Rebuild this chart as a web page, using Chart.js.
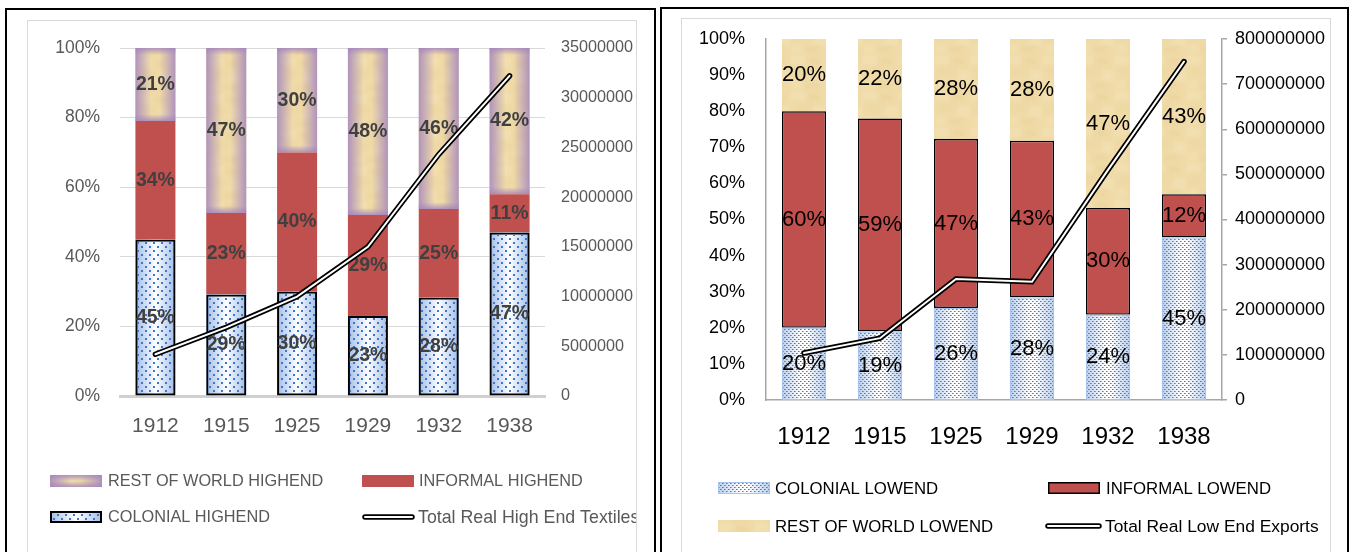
<!DOCTYPE html>
<html>
<head>
<meta charset="utf-8">
<script src="https://cdn.jsdelivr.net/npm/chart.js@4.4.1/dist/chart.umd.min.js"></script>
<style>
  body { margin: 0; background: #fff; width: 1351px; height: 552px; overflow: hidden; position: relative; }
  .frame { position: absolute; border: 2px solid #000; box-sizing: border-box; }
  .inner { position: absolute; border: 1px solid #d9d9d9; box-sizing: border-box; }
  canvas { position: absolute; }
</style>
</head>
<body>
<div class="frame" style="left:5px;top:8px;width:651px;height:600px"></div>
<div class="inner" style="left:27px;top:20px;width:610px;height:600px"></div>
<canvas id="high" width="608" height="524" style="left:28px;top:21px"></canvas>

<div class="frame" style="left:660px;top:7px;width:689px;height:600px"></div>
<div class="inner" style="left:681px;top:18px;width:650px;height:600px"></div>
<canvas id="low" width="647" height="526" style="left:682px;top:19px"></canvas>

<script>
const years = ["1912", "1915", "1925", "1929", "1932", "1938"];

// high end textiles, share of total (%)
const colonialHigh = [45, 29.2, 30, 23, 28.3, 47];
const informalHigh = [34, 23.4, 40, 29, 25.4, 11];
const restHigh = [21, 47.4, 30, 48, 46.3, 42];
const totalHigh = [4200000, 6900000, 10000000, 15000000, 24300000, 32200000];

// low end exports, share of total (%)
const colonialLow = [20, 19, 25.5, 28.4, 23.6, 45];
const informalLow = [60, 59, 46.8, 43.4, 29.6, 12];
const restLow = [20, 22, 27.7, 28.2, 46.8, 43];
const totalLow = [104000000, 137000000, 268000000, 262000000, 510000000, 750000000];

const FONT = "'Liberation Sans', Arial, sans-serif";
Chart.defaults.font.family = FONT;
Chart.defaults.animation = false;

function tile(w, h, paint) {
  const c = document.createElement("canvas");
  c.width = w; c.height = h;
  paint(c.getContext("2d"));
  return c;
}

const dotsBig = tile(8, 8, g => {
  g.fillStyle = "#3f76c9";
  g.fillRect(1, 1, 2, 2);
  g.fillRect(5, 5, 2, 2);
});

const dotsFine = tile(4, 4, g => {
  g.fillStyle = "#3f7fd6";
  g.fillRect(0, 0, 1, 1);
  g.fillRect(2, 2, 1, 1);
  g.fillStyle = "rgba(63,127,214,0.6)";
  g.fillRect(1, 0, 1, 1);
  g.fillRect(3, 2, 1, 1);
});

// soft papyrus-like texture
const papyrus = tile(36, 36, g => {
  g.fillStyle = "#f0dba8";
  g.fillRect(0, 0, 36, 36);
  const blocks = [
    [0, 0, 14, 9, "#f7e8c4"], [18, 3, 12, 7, "#e6cc92"], [5, 14, 16, 6, "#e8d09a"],
    [24, 16, 12, 10, "#f7e9c6"], [2, 26, 10, 8, "#f5e4ba"], [15, 28, 14, 6, "#e5cb91"]
  ];
  g.globalAlpha = 0.35;
  g.filter = "blur(2px)";
  blocks.forEach(([x, y, w, h, c]) => { g.fillStyle = c; g.fillRect(x, y, w, h); });
});

function rectOf(el) {
  const p = el.getProps(["x", "y", "base", "width"], true);
  return { l: p.x - p.width / 2, t: Math.min(p.y, p.base), w: p.width, h: Math.abs(p.base - p.y) };
}

// edge glow: horizontal fade plus optional top/bottom strips
function paintGlow(ctx, r, glow) {
  if (glow.base) { ctx.fillStyle = glow.base; ctx.fillRect(r.l, r.t, r.w, r.h); }
  let g = ctx.createLinearGradient(r.l, 0, r.l + r.w, 0);
  g.addColorStop(0, glow.edge);
  g.addColorStop(glow.reach, glow.clear);
  g.addColorStop(1 - glow.reach, glow.clear);
  g.addColorStop(1, glow.edge);
  ctx.fillStyle = g;
  ctx.fillRect(r.l, r.t, r.w, r.h);
  if (glow.depth) {
    const d = Math.min(glow.depth, r.h / 2);
    g = ctx.createLinearGradient(0, r.t, 0, r.t + d);
    g.addColorStop(0, glow.edge); g.addColorStop(1, glow.clear);
    ctx.fillStyle = g; ctx.fillRect(r.l, r.t, r.w, d);
    g = ctx.createLinearGradient(0, r.t + r.h, 0, r.t + r.h - d);
    g.addColorStop(0, glow.edge); g.addColorStop(1, glow.clear);
    ctx.fillStyle = g; ctx.fillRect(r.l, r.t + r.h - d, r.w, d);
  }
}

const barSkin = {
  id: "barSkin",
  beforeDatasetDraw(chart, args) {
    const ds = chart.data.datasets[args.index];
    if (!ds.under) return;
    chart.ctx.save();
    args.meta.data.forEach(el => paintGlow(chart.ctx, rectOf(el), ds.under));
    chart.ctx.restore();
  },
  afterDatasetDraw(chart, args) {
    const ds = chart.data.datasets[args.index];
    const ctx = chart.ctx;
    ctx.save();
    if (ds.over) args.meta.data.forEach(el => paintGlow(ctx, rectOf(el), ds.over));
    if (ds.labelFont) {
      ctx.font = ds.labelFont;
      ctx.fillStyle = ds.labelColor;
      ctx.textAlign = "center";
      ctx.textBaseline = "middle";
      args.meta.data.forEach((el, i) => {
        ctx.fillText(Math.round(ds.data[i]) + "%", el.x, (el.y + el.base) / 2);
      });
    }
    ctx.restore();
  }
};

function paintSwatch(ctx, ds, x, y, w, h) {
  if (ds.type === "line") {
    ctx.lineCap = "round";
    ctx.strokeStyle = "#000"; ctx.lineWidth = 5.5;
    ctx.beginPath(); ctx.moveTo(x + 3, y); ctx.lineTo(x + w - 3, y); ctx.stroke();
    ctx.strokeStyle = "#fff"; ctx.lineWidth = 2;
    ctx.beginPath(); ctx.moveTo(x + 3, y); ctx.lineTo(x + w - 3, y); ctx.stroke();
    return;
  }
  const r = { l: x, t: y - h / 2, w: w, h: h };
  if (ds.under) paintGlow(ctx, r, ds.under);
  ctx.fillStyle = ds.backgroundColor;
  ctx.fillRect(r.l, r.t, r.w, r.h);
  if (ds.over) paintGlow(ctx, r, ds.over);
  if (ds.borderWidth) {
    ctx.strokeStyle = ds.borderColor; ctx.lineWidth = ds.borderWidth;
    const b = ds.borderWidth / 2;
    ctx.strokeRect(r.l + b, r.t + b, r.w - 2 * b, r.h - 2 * b);
  }
}

// two-column legend below the axis
const gridLegend = {
  id: "gridLegend",
  afterDraw(chart, args, opts) {
    const ctx = chart.ctx;
    ctx.save();
    opts.items.forEach(it => {
      const ds = chart.data.datasets[it.dataset];
      ctx.save();
      paintSwatch(ctx, ds, it.x, it.y, it.w || 52, 12);
      ctx.restore();
      ctx.font = it.font || opts.font;
      ctx.fillStyle = opts.color;
      ctx.textAlign = "left";
      ctx.textBaseline = "middle";
      ctx.fillText(ds.label, it.tx, it.y + 1);
    });
    ctx.restore();
  }
};

function lineSets(label, data) {
  const base = { type: "line", yAxisID: "y2", data: data, pointRadius: 0, tension: 0, borderCapStyle: "round" };
  return [
    Object.assign({}, base, { label: label + " core", borderColor: "#fff", borderWidth: 2, order: 0 }),
    Object.assign({}, base, { label: label, borderColor: "#000", borderWidth: 5.5, order: 1 })
  ];
}

// keep the plot edges where the layout padding puts them
function fitWidth(w) {
  return s => { s.width = w; s.paddingTop = 0; s.paddingBottom = 0; };
}

// high end chart
const highCtx = document.getElementById("high").getContext("2d");
const highLabel = "bold 19.5px " + FONT;
new Chart(highCtx, {
  type: "bar",
  data: {
    labels: years,
    datasets: [
      ...lineSets("Total Real High End Textiles", totalHigh),
      {
        label: "COLONIAL HIGHEND", data: colonialHigh, order: 2,
        backgroundColor: highCtx.createPattern(dotsBig, "repeat"),
        borderColor: "#000", borderWidth: 2, borderSkipped: false,
        under: { base: "#fff", edge: "rgba(120,160,222,0.7)", clear: "rgba(120,160,222,0)", reach: 0.5 },
        labelFont: highLabel, labelColor: "#404040"
      },
      {
        label: "INFORMAL HIGHEND", data: informalHigh, order: 2,
        backgroundColor: "#c0504d", borderWidth: 0,
        labelFont: highLabel, labelColor: "#404040"
      },
      {
        label: "REST OF WORLD HIGHEND", data: restHigh, order: 2,
        backgroundColor: highCtx.createPattern(papyrus, "repeat"),
        borderWidth: 0,
        over: { edge: "rgba(165,135,190,0.85)", clear: "rgba(165,135,190,0)", reach: 0.4, depth: 7 },
        labelFont: highLabel, labelColor: "#404040"
      }
    ]
  },
  options: {
    responsive: false,
    devicePixelRatio: 1,
    layout: { padding: { top: 27, bottom: 89, left: 0, right: 0 } },
    datasets: { bar: { categoryPercentage: 1, barPercentage: 0.565 } },
    scales: {
      x: {
        stacked: true,
        grid: { display: false, drawTicks: false },
        border: { display: true, color: "#d0d0d0", width: 3 },
        ticks: { color: "#595959", font: { size: 21 }, padding: 18 },
        afterFit: s => { s.height = 60; }
      },
      y: {
        stacked: true, min: 0, max: 100,
        grid: { color: "#d9d9d9", drawTicks: false },
        border: { display: false },
        ticks: { stepSize: 20, color: "#595959", font: { size: 17.5 }, padding: 20, callback: v => v + "%" },
        afterFit: fitWidth(92)
      },
      y2: {
        position: "right", stacked: false, min: 0, max: 35000000,
        grid: { display: false, drawTicks: false },
        border: { display: false },
        ticks: { stepSize: 5000000, color: "#595959", font: { size: 16.2 }, padding: 16, callback: v => String(v) },
        afterFit: fitWidth(91)
      }
    },
    plugins: {
      legend: { display: false },
      tooltip: { enabled: false },
      gridLegend: {
        font: "16.3px " + FONT,
        color: "#595959",
        items: [
          { dataset: 4, x: 22, y: 460, tx: 80 },
          { dataset: 3, x: 334, y: 460, tx: 391 },
          { dataset: 2, x: 22, y: 496, tx: 80 },
          { dataset: 1, x: 334, y: 496, tx: 390, w: 53, font: "17.8px " + FONT }
        ]
      }
    }
  },
  plugins: [barSkin, gridLegend]
});

// low end chart
const lowCtx = document.getElementById("low").getContext("2d");
const lowLabel = "22px " + FONT;
new Chart(lowCtx, {
  type: "bar",
  data: {
    labels: years,
    datasets: [
      ...lineSets("Total Real Low End Exports", totalLow),
      {
        label: "COLONIAL LOWEND", data: colonialLow, order: 2,
        backgroundColor: lowCtx.createPattern(dotsFine, "repeat"),
        borderColor: "#a9c4eb", borderWidth: 1, borderSkipped: false,
        under: { base: "#fff", edge: "rgba(140,175,228,0.6)", clear: "rgba(140,175,228,0)", reach: 0.45 },
        labelFont: lowLabel, labelColor: "#000"
      },
      {
        label: "INFORMAL LOWEND", data: informalLow, order: 2,
        backgroundColor: "#c0504d", borderColor: "#000", borderWidth: 1.5, borderSkipped: false,
        labelFont: lowLabel, labelColor: "#000"
      },
      {
        label: "REST OF WORLD LOWEND", data: restLow, order: 2,
        backgroundColor: lowCtx.createPattern(papyrus, "repeat"),
        borderWidth: 0,
        labelFont: lowLabel, labelColor: "#000"
      }
    ]
  },
  options: {
    responsive: false,
    devicePixelRatio: 1,
    layout: { padding: { top: 20, bottom: 85, left: 0, right: 0 } },
    datasets: { bar: { categoryPercentage: 1, barPercentage: 0.58 } },
    scales: {
      x: {
        stacked: true,
        grid: { display: false, drawTicks: false },
        border: { display: true, color: "#a6a6a6", width: 1.5 },
        ticks: { color: "#000", font: { size: 24 }, padding: 23 },
        afterFit: s => { s.height = 60; }
      },
      y: {
        stacked: true, min: 0, max: 100,
        grid: { display: false, drawTicks: false },
        border: { display: true, color: "#a6a6a6", width: 1.5 },
        ticks: { stepSize: 10, color: "#000", font: { size: 18 }, padding: 21, callback: v => v + "%" },
        afterFit: fitWidth(84)
      },
      y2: {
        position: "right", stacked: false, min: 0, max: 800000000,
        grid: { drawOnChartArea: false, drawTicks: true, tickLength: 5, color: "#a6a6a6", lineWidth: 1.5 },
        border: { display: true, color: "#a6a6a6", width: 1.5 },
        ticks: { stepSize: 100000000, color: "#000", font: { size: 18 }, padding: 8, callback: v => String(v) },
        afterFit: fitWidth(107)
      }
    },
    plugins: {
      legend: { display: false },
      tooltip: { enabled: false },
      gridLegend: {
        font: "16.8px " + FONT,
        color: "#000",
        items: [
          { dataset: 2, x: 36, y: 469, tx: 93 },
          { dataset: 3, x: 366, y: 469, tx: 424 },
          { dataset: 4, x: 36, y: 507, tx: 93 },
          { dataset: 1, x: 363, y: 507, tx: 423, w: 57, font: "17.4px " + FONT }
        ]
      }
    }
  },
  plugins: [barSkin, gridLegend]
});
</script>
</body>
</html>
